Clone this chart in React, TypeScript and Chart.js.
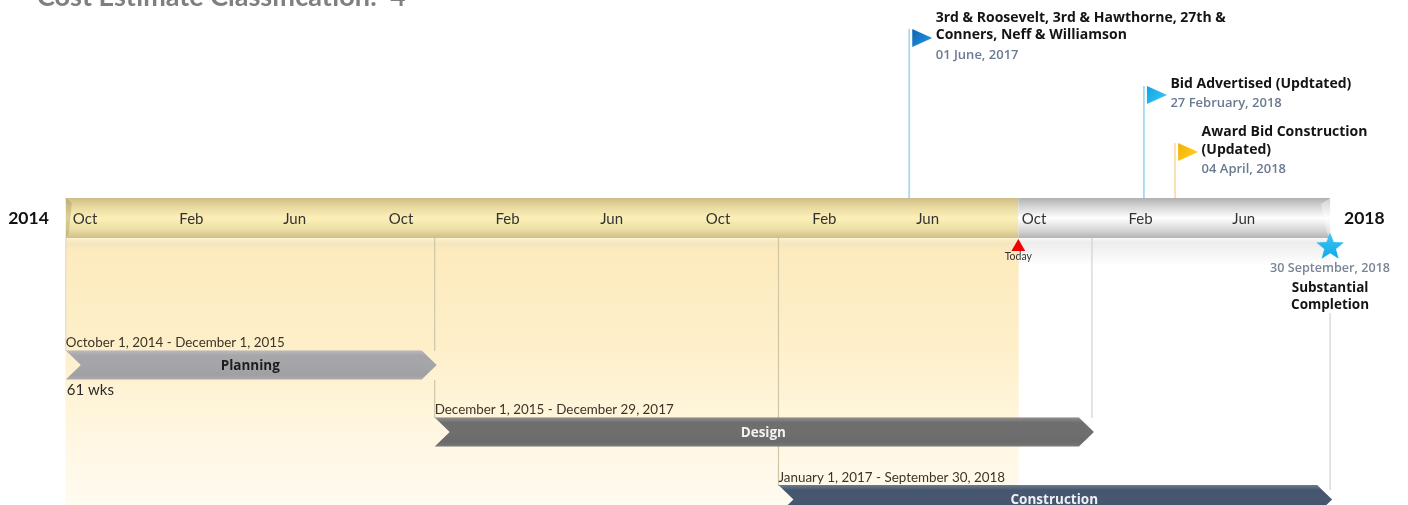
import React, { useEffect, useRef } from "react";
import { Chart, BarController, BarElement, registerables } from "chart.js";

Chart.register(...registerables);

// ---------- data ----------
const tickDates = ["2014-10-01","2015-02-01","2015-06-01","2015-10-01","2016-02-01","2016-06-01","2016-10-01","2017-02-01","2017-06-01","2017-10-01","2018-02-01","2018-06-01"];
const tickLabels = ["Oct","Feb","Jun","Oct","Feb","Jun","Oct","Feb","Jun","Oct","Feb","Jun"];
const timelineStart = "2014-10-01";
const timelineToday = "2017-10-05";
const timelineEnd = "2018-09-30";

const taskNames = ["Planning", "Design", "Construction"];
const taskStarts = ["2014-10-01", "2015-12-01", "2017-01-01"];
const taskEnds = ["2015-12-01", "2017-12-29", "2018-09-30"];
const taskRanges = ["October 1, 2014 - December 1, 2015", "December 1, 2015 - December 29, 2017", "January 1, 2017 - September 30, 2018"];
const taskColors = ["#a6a6aa", "#6e6e6e", "#45566f"];
const taskTextColors = ["#1d1d1d", "#f2f2f2", "#eef1f5"];

const milestoneDates = ["2017-06-01", "2018-02-27", "2018-04-04"];
const milestoneTitles = [
  ["3rd & Roosevelt, 3rd & Hawthorne, 27th &", "Conners, Neff & Williamson"],
  ["Bid Advertised (Updtated)"],
  ["Award Bid Construction", "(Updated)"],
];
const milestoneDateLabels = ["01 June, 2017", "27 February, 2018", "04 April, 2018"];
const milestoneColors = [["#0a64b4", "#2a9be0"], ["#0fa2e6", "#3cccf2"], ["#f2b000", "#ffd52a"]];
const milestoneStems = ["#a5d8f2", "#a5d8f2", "#fbdfa8"];

const completionDate = "2018-09-30";
const completionDateLabel = "30 September, 2018";
const completionTitle = ["Substantial", "Completion"];
const chartTitle = "Cost Estimate Classification:  4";
const startYear = "2014";
const endYear = "2018";
const durationLabel = "61 wks";
const todayLabel = "Today";

// ---------- vertical layout, in units of the hidden y scale ----------
const Y_MAX = 505;
const BAND = { top: 198, bottom: 238 };
const TASK_Y = [365, 432, 499.5];
const TASK_H = 29;
const FLAG_Y = [38, 95, 152];
const TODAY_Y = 247;
const STAR_Y = 246;
const LATO = "Lato, sans-serif";
const OPEN = "'Open Sans', sans-serif";

const day = (s: string) => Date.parse(s + "T00:00:00Z") / 86400000;

function vGrad(chart: any, top: number, bottom: number, stops: [number, string][]) {
  const y = chart.scales?.y;
  if (!y) return stops[0][1];
  const a = y.getPixelForValue(top), b = y.getPixelForValue(bottom);
  if (!Number.isFinite(a) || !Number.isFinite(b)) return stops[0][1];
  const g = chart.ctx.createLinearGradient(0, a, 0, b);
  stops.forEach(([o, c]) => g.addColorStop(o, c));
  return g;
}

// ---------- custom bar shapes ----------
class ChevronElement extends BarElement {
  static id = "chevron";
  draw(ctx: CanvasRenderingContext2D) {
    const { x, y, base, height, options } = this as any;
    if (![x, y, base, height].every(Number.isFinite)) return;
    const top = y - height / 2, bottom = y + height / 2;
    const notch = 15;
    ctx.save();
    ctx.beginPath();
    ctx.moveTo(base, top);
    ctx.lineTo(x - 13, top);
    ctx.lineTo(x + 2, y);
    ctx.lineTo(x - 13, bottom);
    ctx.lineTo(base, bottom);
    ctx.lineTo(base + notch, y);
    ctx.closePath();
    ctx.fillStyle = options.backgroundColor;
    ctx.fill();
    const g = ctx.createLinearGradient(0, top, 0, bottom);
    g.addColorStop(0, "rgba(255,255,255,0.22)");
    g.addColorStop(0.18, "rgba(255,255,255,0)");
    g.addColorStop(0.8, "rgba(0,0,0,0.03)");
    g.addColorStop(1, "rgba(255,255,255,0.10)");
    ctx.fillStyle = g;
    ctx.fill();
    ctx.restore();
  }
}
class ChevronController extends BarController {
  static id = "chevronBar";
  static defaults = { ...BarController.defaults, dataElementType: "chevron" };
}
class BandElement extends BarElement {
  static id = "band";
  draw(ctx: CanvasRenderingContext2D) {
    const { x, y, base, height, options } = this as any;
    const idx = (this as any).$context?.index ?? 0;
    const top = y - height / 2, bottom = y + height / 2;
    ctx.save();
    ctx.fillStyle = options.backgroundColor;
    ctx.fillRect(base, top, x - base, height);
    ctx.beginPath();
    if (idx === 0) {
      ctx.moveTo(base, top); ctx.lineTo(base + 6, top + 5); ctx.lineTo(base + 3, bottom - 5); ctx.lineTo(base, bottom);
      ctx.fillStyle = "rgba(150,130,70,0.3)";
    } else {
      ctx.moveTo(x, top); ctx.lineTo(x - 9, top + 6); ctx.lineTo(x - 3, bottom - 5); ctx.lineTo(x, bottom);
      ctx.fillStyle = "rgba(255,255,255,0.4)";
    }
    ctx.closePath();
    ctx.fill();
    ctx.restore();
  }
}
class BandController extends BarController {
  static id = "bandBar";
  static defaults = { ...BarController.defaults, dataElementType: "band" };
}
Chart.register(ChevronElement, ChevronController, BandElement, BandController);

// ---------- point images (centre of the image sits on the date) ----------
function flagImage(c0: string, c1: string) {
  const w = 20, h = 18, gap = 3;
  const cv = document.createElement("canvas");
  cv.width = 2 * (w + gap); cv.height = h;
  const ctx = cv.getContext("2d")!;
  const left = w + gap + gap;
  const g = ctx.createLinearGradient(left, 0, left + w, h);
  g.addColorStop(0, c0); g.addColorStop(1, c1);
  ctx.fillStyle = g;
  ctx.beginPath();
  ctx.moveTo(left, 0); ctx.lineTo(left + w, h / 2); ctx.lineTo(left, h);
  ctx.closePath(); ctx.fill();
  return cv;
}
function starImage() {
  const s = 30, R = 14.5, r = 6.2;
  const cv = document.createElement("canvas");
  cv.width = s; cv.height = s;
  const ctx = cv.getContext("2d")!;
  const g = ctx.createLinearGradient(0, 0, 0, s);
  g.addColorStop(0, "#45c8f5"); g.addColorStop(1, "#0aa6e6");
  ctx.fillStyle = g;
  ctx.beginPath();
  for (let i = 0; i < 10; i++) {
    const a = -Math.PI / 2 + (i * Math.PI) / 5;
    const rad = i % 2 ? r : R;
    ctx.lineTo(s / 2 + Math.cos(a) * rad, s / 2 + 1 + Math.sin(a) * rad);
  }
  ctx.closePath(); ctx.fill();
  return cv;
}

// ---------- text layer ----------
const textPlugin = {
  id: "timelineText",
  afterDraw(chart: any) {
    const { ctx, scales: { x, y } } = chart;
    const put = (t: string, px: number, py: number, font: string, color: string, align: CanvasTextAlign = "left") => {
      ctx.font = font;
      ctx.fillStyle = color;
      ctx.textAlign = align;
      ctx.textBaseline = "middle";
      ctx.fillText(t, px, py);
    };
    ctx.save();
    put(chartTitle, 37, y.getPixelForValue(-3), `bold 27px ${LATO}`, "#7f7f7f");
    const xs = x.getPixelForValue(day(timelineStart));
    const xe = x.getPixelForValue(day(timelineEnd));
    put(startYear, xs - 17, y.getPixelForValue(218.5), `bold 17.5px ${LATO}`, "#111", "right");
    put(endYear, xe + 14, y.getPixelForValue(218.5), `bold 17.5px ${LATO}`, "#111");

    const flagText = [[18, 35, 55], [84, 103], [132, 150, 169]];
    milestoneDates.forEach((d, i) => {
      const tx = x.getPixelForValue(day(d)) + 26.5;
      milestoneTitles[i].forEach((t, j) => put(t, tx, y.getPixelForValue(flagText[i][j]), `bold 14px ${OPEN}`, "#141414"));
      put(milestoneDateLabels[i], tx, y.getPixelForValue(flagText[i][milestoneTitles[i].length]), `600 13px ${OPEN}`, "#6b7a90");
    });

    const rangeY = [343, 410, 478];
    taskNames.forEach((n, i) => {
      const a = x.getPixelForValue(day(taskStarts[i]));
      const b = x.getPixelForValue(day(taskEnds[i]));
      put(taskRanges[i], a, y.getPixelForValue(rangeY[i]), `13.4px ${LATO}`, "#3a3526");
      put(n, (a + b) / 2, y.getPixelForValue(TASK_Y[i] + 1), `bold 13.5px ${OPEN}`, taskTextColors[i], "center");
    });
    put(durationLabel, xs + 1, y.getPixelForValue(390), `15px ${LATO}`, "#2a2a2a");
    put(todayLabel, x.getPixelForValue(day(timelineToday)), y.getPixelForValue(257), `10.5px ${LATO}`, "#333", "center");
    const cx = x.getPixelForValue(day(completionDate));
    put(completionDateLabel, cx, y.getPixelForValue(268), `600 12.6px ${OPEN}`, "#7b8595", "center");
    completionTitle.forEach((t, j) => put(t, cx, y.getPixelForValue(288 + j * 17.5), `bold 13.5px ${OPEN}`, "#141414", "center"));
    ctx.restore();
  },
};

export default function App() {
  const ref = useRef<HTMLCanvasElement>(null);
  useEffect(() => {
    const stem = (date: string, from: number, to: number, color: string, width = 1.2) => ({
      type: "scatter" as const,
      showLine: true,
      pointRadius: 0,
      borderWidth: width,
      borderColor: color,
      order: 5,
      data: [{ x: day(date), y: from }, { x: day(date), y: to }],
    });
    const stems = [
      stem(timelineStart, BAND.bottom, 351, "#e6dcb8"),
      stem(taskEnds[0], BAND.bottom, 351, "#cfc6a6"),
      stem(taskEnds[0], 380, 418, "#cfc6a6"),
      stem(taskStarts[2], BAND.bottom, 486, "#cfc6a6"),
      stem(taskEnds[1], BAND.bottom, 418, "#d2d2d2"),
      stem(completionDate, 313, 490, "#d2d2d2"),
      ...milestoneDates.map((d, i) => stem(d, FLAG_Y[i] - 9, BAND.top, milestoneStems[i], 1.8)),
    ];
    const chart = new Chart(ref.current!, {
      type: "bar",
      plugins: [textPlugin],
      data: {
        datasets: [
          {
            type: "scatter",
            order: 1,
            data: milestoneDates.map((d, i) => ({ x: day(d), y: FLAG_Y[i] })),
            pointStyle: milestoneColors.map(([a, b]) => flagImage(a, b)),
            pointRadius: 10,
          },
          {
            type: "scatter",
            order: 1,
            data: [{ x: day(completionDate), y: STAR_Y }],
            pointStyle: starImage(),
            pointRadius: 10,
          },
          {
            type: "scatter",
            order: 1,
            data: [{ x: day(timelineToday), y: TODAY_Y }],
            pointStyle: "triangle",
            pointRadius: 8,
            backgroundColor: "#f00000",
            borderWidth: 0,
          },
          {
            type: "chevronBar",
            order: 2,
            grouped: false,
            barThickness: TASK_H,
            data: TASK_Y.map((y, i) => ({ y, x: [day(taskStarts[i]), day(taskEnds[i])] })),
            backgroundColor: taskColors,
          },
          {
            type: "bandBar",
            order: 3,
            grouped: false,
            barThickness: BAND.bottom - BAND.top,
            data: [
              { y: (BAND.top + BAND.bottom) / 2, x: [day(timelineStart), day(timelineToday)] },
              { y: (BAND.top + BAND.bottom) / 2, x: [day(timelineToday), day(timelineEnd)] },
            ],
            backgroundColor: (c: any) =>
              c.dataIndex === 0
                ? vGrad(c.chart, BAND.top, BAND.bottom, [[0, "#cdbc85"], [0.2, "#e6d79e"], [0.5, "#fcf0b8"], [0.8, "#eadca2"], [1, "#cfbe88"]])
                : vGrad(c.chart, BAND.top, BAND.bottom, [[0, "#b0b0b0"], [0.18, "#cfcfcf"], [0.5, "#ffffff"], [0.82, "#d4d4d4"], [1, "#b4b4b4"]]),
          },
          ...stems,
          {
            type: "bar",
            order: 7,
            grouped: false,
            barThickness: Y_MAX - BAND.bottom,
            data: [{ y: (BAND.bottom + Y_MAX) / 2, x: [day(timelineStart), day(timelineToday)] }],
            backgroundColor: (c: any) =>
              vGrad(c.chart, BAND.bottom, Y_MAX, [[0, "#fdf3d2"], [0.02, "#f4e6be"], [0.05, "#fdebbe"], [0.4, "#feefc9"], [0.75, "#fff7e2"], [1, "#fffbf0"]]),
          },
          {
            type: "bar",
            order: 7,
            grouped: false,
            barThickness: 28,
            data: [{ y: BAND.bottom + 14, x: [day(timelineToday), day(timelineEnd)] }],
            backgroundColor: (c: any) =>
              vGrad(c.chart, BAND.bottom, BAND.bottom + 28, [[0, "#fafafa"], [0.15, "#ececec"], [1, "#ffffff"]]),
          },
        ] as any,
      },
      options: {
        animation: false,
        responsive: false,
        indexAxis: "y",
        events: [],
        layout: { padding: 0, autoPadding: false },
        plugins: { legend: { display: false }, tooltip: { enabled: false }, title: { display: false } },
        scales: {
          x: {
            type: "linear",
            position: { y: 202 } as any,
            min: day("2014-07-17"),
            max: day("2018-12-29"),
            grid: { display: false },
            border: { display: false },
            afterBuildTicks: (s: any) => {
              s.ticks = tickDates.map((d) => ({ value: day(d) }));
            },
            afterFit: (s: any) => {
              s.height = 0;
              s.paddingTop = 0; s.paddingBottom = 0; s.paddingLeft = 0; s.paddingRight = 0;
            },
            ticks: {
              z: 1,
              autoSkip: false,
              minRotation: 0,
              maxRotation: 0,
              align: "start",
              labelOffset: 7,
              padding: 0,
              color: "#333",
              font: { family: LATO, size: 15 },
              callback: (_v: any, i: number) => tickLabels[i],
            },
          },
          y: { type: "linear", display: false, offset: false, reverse: true, min: 0, max: Y_MAX },
        },
      } as any,
    });
    return () => chart.destroy();
  }, []);
  return (
    <div style={{ position: "fixed", left: 0, top: 0, width: 1408, height: 505, background: "#fff", overflow: "hidden" }}>
      <canvas ref={ref} width={1408} height={505} style={{ display: "block", filter: "blur(0.4px)" }} />
    </div>
  );
}
